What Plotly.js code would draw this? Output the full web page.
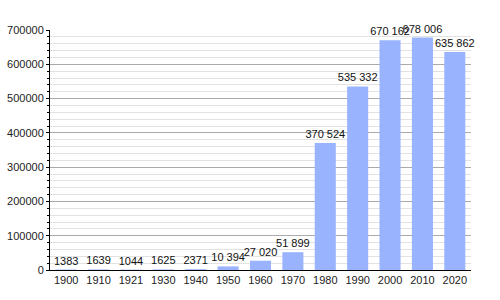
<!DOCTYPE html>
<html><head><meta charset="utf-8">
<script src="https://cdn.plot.ly/plotly-3.0.1.min.js"></script>
<style>html,body{margin:0;padding:0;background:#fff}</style>
</head><body>
<div id="chart" style="width:500px;height:300px"></div>
<script>
const years = ["1900","1910","1921","1930","1940","1950","1960","1970","1980","1990","2000","2010","2020"];
const population = [1383,1639,1044,1625,2371,10394,27020,51899,370524,535332,670162,678006,635862];
const labels = ["1383","1639","1044","1625","2371","10 394","27 020","51 899","370 524","535 332","670 162","678 006","635 862"];

Plotly.newPlot('chart', [{
  type: 'bar',
  x: years,
  y: population,
  text: labels,
  textposition: 'outside',
  constraintext: 'none',
  cliponaxis: false,
  textfont: {family: 'Liberation Sans, Arial, sans-serif', size: 11, color: '#111'},
  marker: {color: '#99b3ff'},
  width: 0.65,
  hoverinfo: 'none'
}], {
  width: 500, height: 300,
  margin: {l: 50, r: 29, t: 30, b: 30},
  paper_bgcolor: '#fff', plot_bgcolor: '#fff',
  showlegend: false,
  font: {family: 'Liberation Sans, Arial, sans-serif', size: 11, color: '#222'},
  xaxis: {
    type: 'category',
    showline: true, linecolor: '#000', linewidth: 1,
    ticks: '', showgrid: false, tickfont: {size: 11}
  },
  yaxis: {
    range: [0, 700000],
    dtick: 100000,
    tickformat: 'd',
    showline: true, linecolor: '#000', linewidth: 1,
    ticks: 'outside', ticklen: 3, tickcolor: '#000',
    gridcolor: '#aaaaaa', gridwidth: 1,
    zeroline: false,
    minor: {dtick: 20000, showgrid: true, gridcolor: '#e2e2e2', ticks: 'outside', ticklen: 2, tickcolor: '#000'},
    tickfont: {size: 11}
  },
  bargap: 0.35
}, {displayModeBar: false, staticPlot: true});
</script>
</body></html>
